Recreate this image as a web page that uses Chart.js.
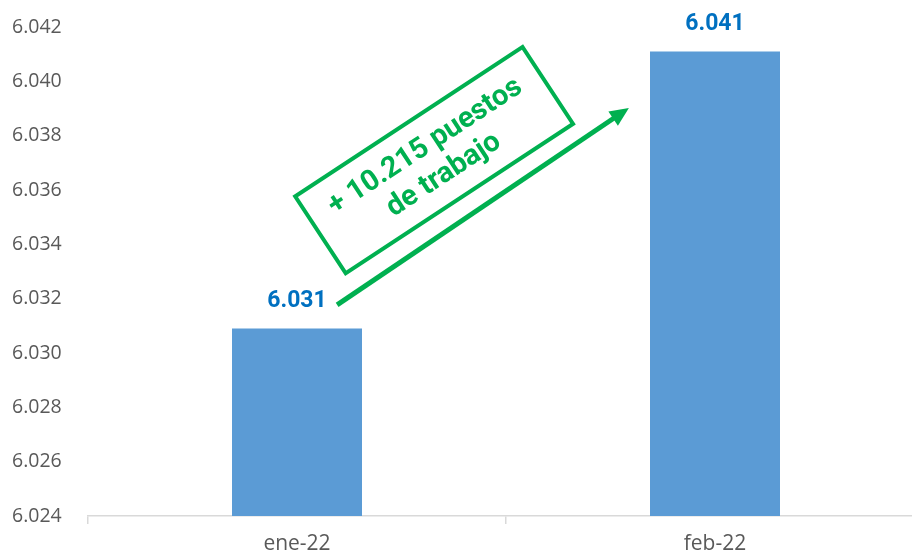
<!DOCTYPE html>
<html>
<head>
<meta charset="utf-8">
<script src="https://cdn.jsdelivr.net/npm/chart.js@4/dist/chart.umd.min.js"></script>
<style>
  html, body { margin: 0; padding: 0; background: #fff; overflow: hidden; }
  #wrap { width: 924px; height: 554px; position: relative; }
</style>
</head>
<body>
<div id="wrap"><canvas id="chart"></canvas></div>
<script>
// Ocupados ene-22 vs feb-22 (millones)
const categories = ['ene-22', 'feb-22'];
const values = [6.0309, 6.0411];
const valueLabels = ['6.031', '6.041'];
const yMin = 6.024;
const yMax = 6.042;
const yStep = 0.002;
const noteLines = ['+ 10.215 puestos', 'de trabajo'];

const BLUE = '#5B9BD5';
const LABEL_BLUE = '#0070C0';
const GREEN = '#00B050';

// value labels above the bars
const valueLabelPlugin = {
  id: 'valueLabels',
  afterDatasetsDraw(chart) {
    const ctx = chart.ctx;
    const meta = chart.getDatasetMeta(0);
    ctx.save();
    ctx.font = 'bold 23px Roboto';
    ctx.fillStyle = LABEL_BLUE;
    ctx.textAlign = 'center';
    ctx.textBaseline = 'middle';
    meta.data.forEach((bar, i) => {
      ctx.fillText(valueLabels[i], bar.x, bar.y - 27);
    });
    ctx.restore();
  },
};

// rotated green box + arrow, anchored in data space
const notePlugin = {
  id: 'note',
  afterDraw(chart) {
    const { ctx, scales: { x, y } } = chart;
    const px = (i, v) => ({ x: x.getPixelForValue(0) + i * (x.getPixelForValue(1) - x.getPixelForValue(0)), y: y.getPixelForValue(v) });
    const start = px(0.096, 6.03177);
    const tip = px(0.794, 6.03902);
    const center = px(0.328, 6.03710);
    const ang = -33.3 * Math.PI / 180;

    ctx.save();
    // arrow
    const a = Math.atan2(tip.y - start.y, tip.x - start.x);
    const head = 19;
    const endX = tip.x - Math.cos(a) * head * 0.8;
    const endY = tip.y - Math.sin(a) * head * 0.8;
    ctx.strokeStyle = GREEN;
    ctx.fillStyle = GREEN;
    ctx.lineWidth = 5;
    ctx.beginPath();
    ctx.moveTo(start.x, start.y);
    ctx.lineTo(endX, endY);
    ctx.stroke();
    ctx.beginPath();
    ctx.moveTo(tip.x, tip.y);
    ctx.lineTo(tip.x - Math.cos(a) * head + Math.sin(a) * 8.5, tip.y - Math.sin(a) * head - Math.cos(a) * 8.5);
    ctx.lineTo(tip.x - Math.cos(a) * head - Math.sin(a) * 8.5, tip.y - Math.sin(a) * head + Math.cos(a) * 8.5);
    ctx.closePath();
    ctx.fill();

    // box
    ctx.translate(center.x, center.y);
    ctx.rotate(ang);
    ctx.lineWidth = 4;
    ctx.strokeRect(-136, -46, 272, 92);
    ctx.font = 'bold 29px Roboto';
    ctx.textAlign = 'center';
    ctx.textBaseline = 'middle';
    ctx.fillText(noteLines[0], 0, -16);
    ctx.fillText(noteLines[1], 0, 18);
    ctx.restore();
  },
};

new Chart(document.getElementById('chart'), {
  type: 'bar',
  data: {
    labels: categories,
    datasets: [{
      data: values,
      backgroundColor: BLUE,
      barPercentage: 0.311,
      categoryPercentage: 1,
    }],
  },
  options: {
    responsive: true,
    maintainAspectRatio: false,
    animation: false,
    layout: { padding: { top: 27, right: 0, left: 12, bottom: 0 } },
    plugins: {
      legend: { display: false },
      tooltip: { enabled: false },
    },
    scales: {
      x: {
        grid: { display: true, drawOnChartArea: false, drawTicks: true, tickLength: 8, color: '#d9d9d9', lineWidth: 1.5, offset: true },
        border: { display: true, color: '#d9d9d9', width: 1.5 },
        ticks: { color: '#595959', font: { family: 'Open Sans', size: 21 }, padding: 7 },
        afterFit(scale) { scale.height = 38; },
      },
      y: {
        min: yMin,
        max: yMax,
        grid: { display: false, drawTicks: false },
        border: { display: false },
        ticks: {
          stepSize: yStep,
          color: '#595959',
          font: { family: 'Open Sans', size: 19.5 },
          padding: 0,
          crossAlign: 'far',
          callback: v => v.toFixed(3),
        },
        afterFit(scale) { scale.width = 76; },
      },
    },
  },
  plugins: [valueLabelPlugin, notePlugin],
});
</script>
</body>
</html>
